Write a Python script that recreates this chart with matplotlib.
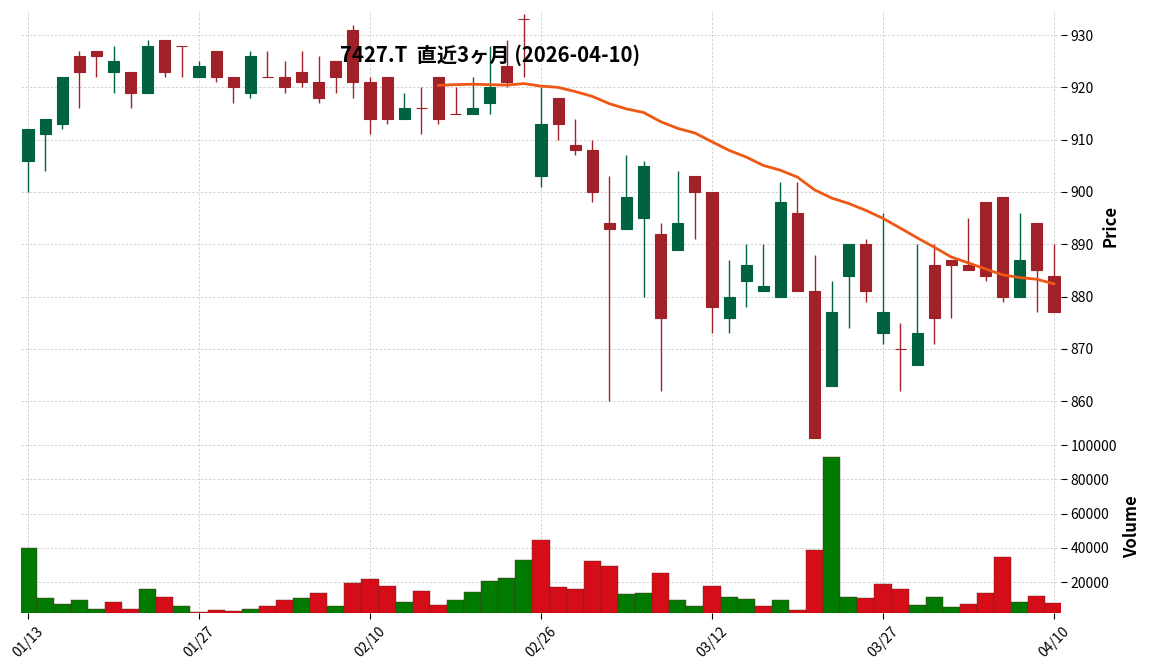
import matplotlib
matplotlib.use('Agg')
import matplotlib.pyplot as plt
import numpy as np
import pandas as pd

plt.rcParams['font.family'] = ['Noto Sans CJK JP', 'DejaVu Sans']

# trading days (TSE holidays removed)
dates = pd.bdate_range('2026-01-13', '2026-04-10', freq='C',
                       holidays=['2026-02-11', '2026-02-23', '2026-03-20'])

opens = [906, 911, 913, 926, 927, 923, 923, 919, 929, 928, 922, 927, 922, 919, 922, 922,
         923, 921, 925, 931, 921, 922, 914, 916, 922, 915, 915, 917, 924, 933, 903, 918,
         909, 908, 894, 893, 895, 892, 889, 903, 900, 876, 883, 881, 880, 896, 881, 863,
         884, 890, 873, 870, 867, 886, 887, 886, 898, 899, 880, 894, 884]
highs = [912, 914, 922, 927, 927, 928, 923, 929, 929, 928, 925, 927, 922, 927, 927, 925,
         927, 926, 925, 932, 922, 922, 919, 920, 922, 920, 922, 928, 929, 934, 920, 918,
         914, 910, 903, 907, 906, 894, 904, 903, 900, 887, 890, 890, 902, 902, 888, 883,
         890, 891, 896, 875, 890, 890, 887, 895, 898, 899, 896, 894, 890]
lows = [900, 904, 912, 916, 922, 919, 916, 919, 922, 922, 922, 921, 917, 918, 922, 919,
        920, 917, 919, 918, 911, 913, 914, 911, 913, 915, 915, 915, 920, 922, 901, 910,
        907, 898, 860, 893, 880, 862, 889, 891, 873, 873, 878, 881, 880, 881, 853, 863,
        874, 879, 871, 862, 867, 871, 876, 885, 883, 879, 880, 877, 877]
closes = [912, 914, 922, 923, 926, 925, 919, 928, 923, 928, 924, 922, 920, 926, 922, 920,
          921, 918, 922, 921, 914, 914, 916, 916, 914, 915, 916, 920, 921, 933, 913, 913,
          908, 900, 893, 899, 905, 876, 894, 900, 878, 880, 886, 882, 898, 881, 853, 877,
          890, 881, 877, 870, 873, 876, 886, 885, 884, 880, 887, 885, 877]
volumes = [40000, 11000, 7500, 9800, 4600, 8700, 4600, 16300, 11600, 6300, 2800, 4000,
           3400, 4600, 6300, 9300, 11000, 13400, 6300, 19800, 21600, 18000, 8700, 15100,
           6900, 9300, 14500, 20400, 22200, 32700, 44400, 16900, 16300, 32100, 29200, 12800,
           13400, 25100, 9800, 6300, 18000, 11600, 10400, 6300, 9800, 4000, 38600, 93100,
           11600, 11000, 19200, 16300, 6900, 11600, 5700, 7500, 13400, 34500, 8700, 12200, 8100]

mav = 25
title = '7427.T  直近3ヶ月 (2026-04-10)'

up_c, down_c = '#006340', '#A02128'
vup_c, vdown_c = '#007a00', '#d50d18'
grid_kw = dict(color='#cccccc', linestyle=(0, (3, 2)), linewidth=0.6)

o = np.array(opens, float)
h = np.array(highs, float)
l = np.array(lows, float)
c = np.array(closes, float)
v = np.array(volumes, float)
x = np.arange(len(c))

fig = plt.figure(figsize=(11.52, 6.70), dpi=100)
W, H = 1152, 670
ax = fig.add_axes([21 / W, 1 - 441 / H, 1040 / W, 430 / H])
axv = fig.add_axes([21 / W, 1 - 613 / H, 1040 / W, 172 / H], sharex=ax)

# candles
cols = [up_c if oo < cc else down_c for oo, cc in zip(o, c)]
ax.vlines(x, l, h, colors=cols, linewidth=1.0, zorder=2)
ax.bar(x, np.abs(c - o), 0.65, bottom=np.minimum(o, c), color=cols,
       edgecolor=cols, linewidth=0.8, zorder=3)

ma = pd.Series(c).rolling(mav).mean()
ax.plot(x, ma, color='#ef5714', linewidth=2.0, zorder=4)

# volume colored vs previous close
vcols = [vup_c if o[0] < c[0] else vdown_c]
vcols += [vup_c if c[i - 1] < c[i] else vdown_c for i in range(1, len(c))]
axv.bar(x, v, 1.0, color=vcols, edgecolor='#5a2a20', linewidth=0.3, zorder=3)

for a in (ax, axv):
    for s in a.spines.values():
        s.set_visible(False)
    a.grid(True, **grid_kw)
    a.set_axisbelow(True)
    a.yaxis.tick_right()
    a.yaxis.set_label_position('right')
    a.tick_params(axis='y', direction='out', length=4, width=0.8, labelsize=10, pad=3)

ax.set_xlim(-0.41, 60.41)
ax.set_ylim(852.4, 934.6)
ax.set_yticks(np.arange(860, 931, 10))
ax.tick_params(axis='x', bottom=False, labelbottom=False)

axv.set_ylim(2000, 102400)
axv.set_yticks(np.arange(20000, 100001, 20000))
axv.set_yticklabels([str(t) for t in range(20000, 100001, 20000)])
tick_pos = list(range(0, len(dates), 10))
axv.set_xticks(tick_pos)
axv.set_xticklabels([dates[i].strftime('%m/%d') for i in tick_pos],
                    rotation=45, ha='center', fontsize=10)
axv.tick_params(axis='x', direction='out', length=4, width=0.8, pad=4)

ax.set_ylabel('Price', fontsize=12, fontweight='bold')
ax.yaxis.set_label_coords(1.039, 0.5)
axv.set_ylabel('Volume', fontsize=12, fontweight='bold')
axv.yaxis.set_label_coords(1.060, 0.5)

fig.text(490 / W, 1 - 55 / H, title, ha='center', va='center',
         fontsize=14.6, fontweight='bold', zorder=10)

fig.savefig('out.png', dpi=100, facecolor='white')
